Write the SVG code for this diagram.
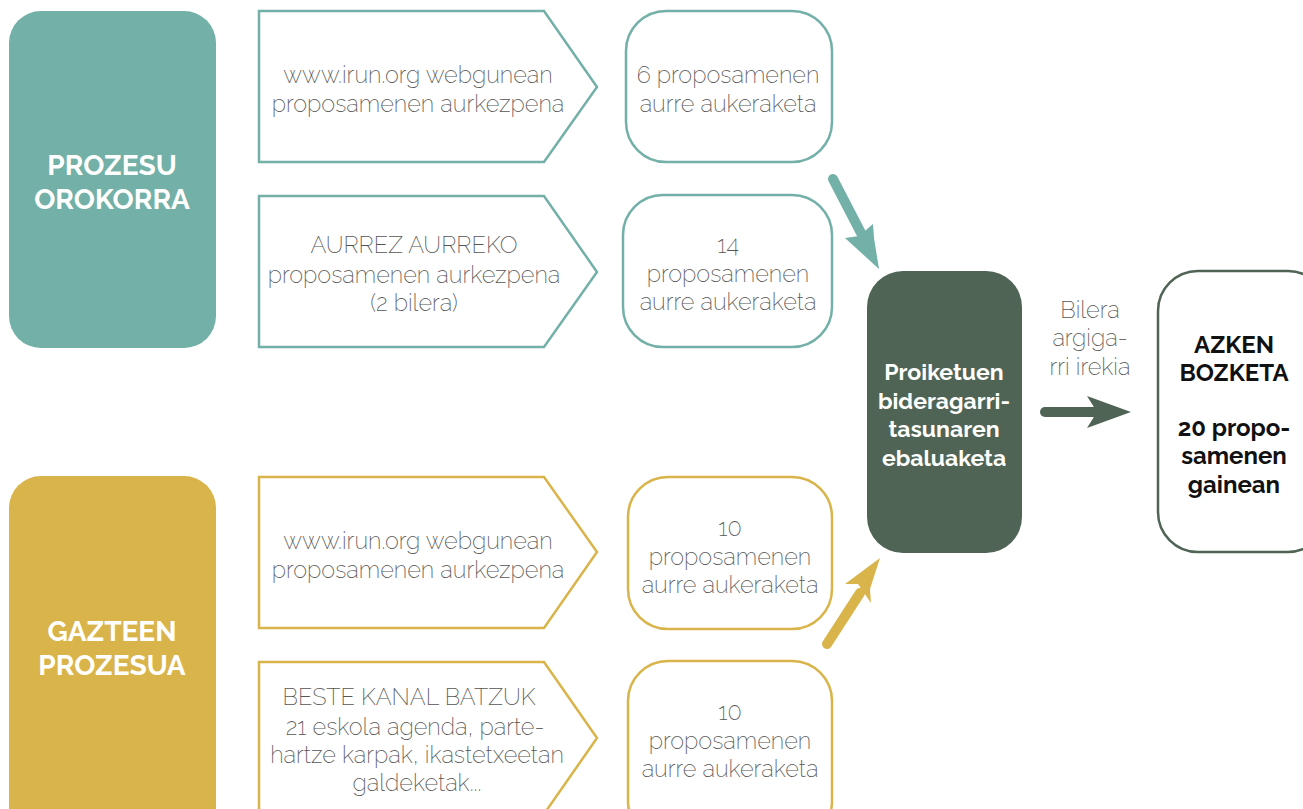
<svg xmlns="http://www.w3.org/2000/svg" width="1303" height="809" viewBox="0 0 1303 809">
<defs>
<style>
.bg{fill:#ffffff}
.lt{font-family:"Raleway","Lato","Open Sans",sans-serif;font-weight:200;font-size:23.5px;fill:#555555;text-anchor:middle}
.bd{font-family:"Raleway","Lato","Open Sans",sans-serif;font-weight:700;text-anchor:middle}
.wh{fill:#ffffff}
.teal-s{fill:#ffffff;stroke:#73b0a7;stroke-width:2.5}
.yel-s{fill:#ffffff;stroke:#d9b44a;stroke-width:2.5}
.conn{fill:none;stroke-width:10;stroke-linecap:round}
</style>
</defs>
<rect class="bg" x="0" y="0" width="1303" height="809"/>

<g id="prozesu-orokorra">
<rect x="9" y="11" width="207" height="337" rx="32" fill="#73b0a7"/>
<text class="bd wh" font-size="28" x="112" y="175">PROZESU</text>
<text class="bd wh" font-size="28" x="112" y="209">OROKORRA</text>
</g>

<g id="gazteen-prozesua">
<rect x="9" y="476" width="207" height="370" rx="32" fill="#d9b44a"/>
<text class="bd wh" font-size="28" x="112" y="641">GAZTEEN</text>
<text class="bd wh" font-size="28" x="112" y="675">PROZESUA</text>
</g>

<g id="p1">
<polygon class="teal-s" points="259,11 544,11 597,87 544,162 259,162"/>
<text class="lt" x="418" y="83">www.irun.org webgunean</text>
<text class="lt" x="418" y="112">proposamenen aurkezpena</text>
</g>

<g id="p2">
<polygon class="teal-s" points="259,196 544,196 597,272 544,347 259,347"/>
<text class="lt" x="414" y="253">AURREZ AURREKO</text>
<text class="lt" x="414" y="283">proposamenen aurkezpena</text>
<text class="lt" x="414" y="311">(2 bilera)</text>
</g>

<g id="p3">
<polygon class="yel-s" points="259,477 544,477 597,552 544,628 259,628"/>
<text class="lt" x="418" y="549">www.irun.org webgunean</text>
<text class="lt" x="418" y="578">proposamenen aurkezpena</text>
</g>

<g id="p4">
<polygon class="yel-s" points="259,662 544,662 597,738 544,814 259,814"/>
<text class="lt" x="409" y="705">BESTE KANAL BATZUK</text>
<text class="lt" x="415" y="735">21 eskola agenda, parte-</text>
<text class="lt" x="417" y="763">hartze karpak, ikastetxeetan</text>
<text class="lt" x="417" y="791">galdeketak...</text>
</g>

<g id="r1">
<rect class="teal-s" x="626" y="11" width="206" height="151" rx="40"/>
<text class="lt" x="728" y="83">6 proposamenen</text>
<text class="lt" x="728" y="112">aurre aukeraketa</text>
</g>

<g id="r2">
<rect class="teal-s" x="623" y="195" width="209" height="152" rx="40"/>
<text class="lt" x="728" y="253">14</text>
<text class="lt" x="728" y="282">proposamenen</text>
<text class="lt" x="728" y="310">aurre aukeraketa</text>
</g>

<g id="r3">
<rect class="yel-s" x="628" y="477" width="204" height="152" rx="40"/>
<text class="lt" x="730" y="536">10</text>
<text class="lt" x="730" y="565">proposamenen</text>
<text class="lt" x="730" y="593">aurre aukeraketa</text>
</g>

<g id="r4">
<rect class="yel-s" x="628" y="661" width="204" height="180" rx="40"/>
<text class="lt" x="730" y="720">10</text>
<text class="lt" x="730" y="749">proposamenen</text>
<text class="lt" x="730" y="777">aurre aukeraketa</text>
</g>

<g id="ebaluaketa">
<rect x="867" y="271" width="155" height="282" rx="36" fill="#4f6455"/>
<text class="bd wh" font-size="23" x="944" y="380">Proiketuen</text>
<text class="bd wh" font-size="23" x="944" y="409">bideragarri-</text>
<text class="bd wh" font-size="23" x="944" y="437">tasunaren</text>
<text class="bd wh" font-size="23" x="944" y="466">ebaluaketa</text>
</g>

<g id="azken-bozketa">
<rect x="1158" y="271" width="170" height="281" rx="40" fill="#ffffff" stroke="#4f6455" stroke-width="2.5"/>
<text class="bd" font-size="24" fill="#111111" x="1234" y="353">AZKEN</text>
<text class="bd" font-size="24" fill="#111111" x="1234" y="381">BOZKETA</text>
<text class="bd" font-size="24" fill="#111111" x="1234" y="436">20 propo-</text>
<text class="bd" font-size="24" fill="#111111" x="1234" y="464">samenen</text>
<text class="bd" font-size="24" fill="#111111" x="1234" y="493">gainean</text>
</g>

<g id="connectors">
<line class="conn" stroke="#73b0a7" x1="833" y1="179" x2="861" y2="233"/>
<polygon fill="#73b0a7" points="879,269 845,238 859,236 873,224 874,238"/>
<line class="conn" stroke="#d9b44a" x1="827" y1="644" x2="860" y2="593"/>
<polygon fill="#d9b44a" points="880,558 845,584 858,584 871,603 870,589"/>
<line class="conn" stroke="#4f6455" x1="1045" y1="412" x2="1100" y2="412"/>
<polygon fill="#4f6455" points="1131,412 1087,396 1097,412 1087,428"/>
<text class="lt" x="1090" y="318">Bilera</text>
<text class="lt" x="1090" y="346">argiga-</text>
<text class="lt" x="1090" y="375">rri irekia</text>
</g>
</svg>
